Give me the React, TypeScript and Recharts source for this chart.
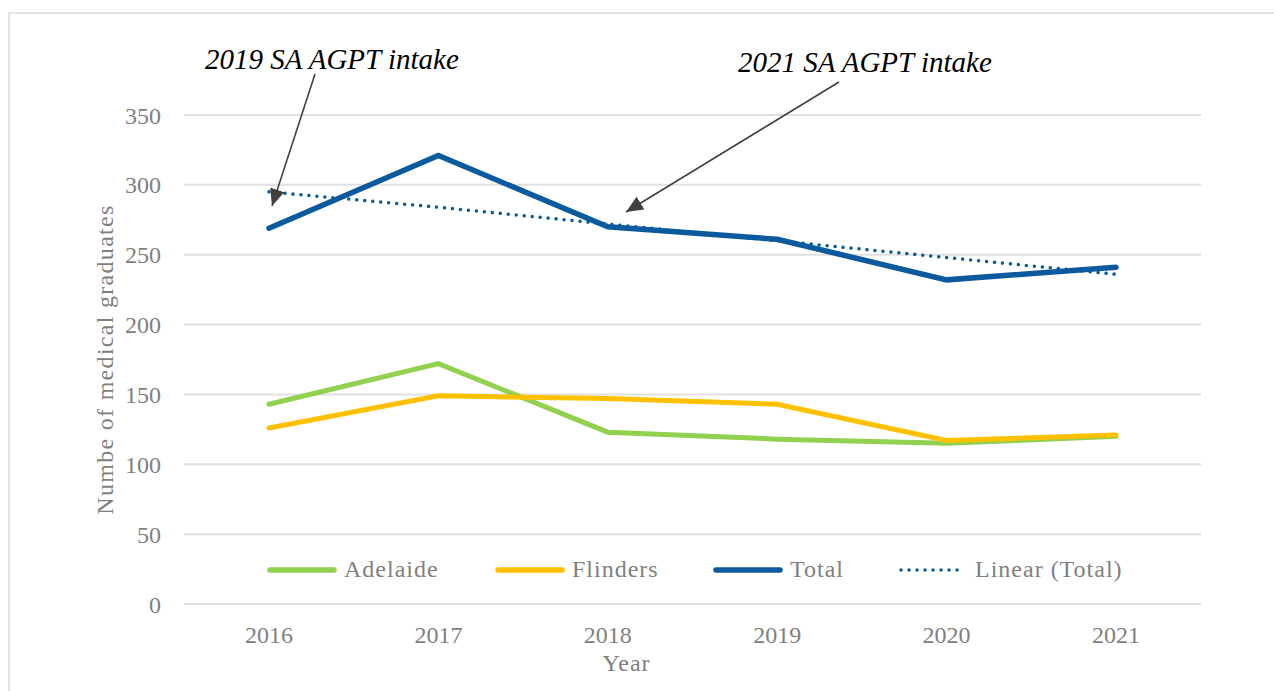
import { CartesianGrid, Legend, Line, LineChart, XAxis, YAxis } from "recharts"

const years = ["2016", "2017", "2018", "2019", "2020", "2021"]
const adelaide = [143, 172, 123, 118, 115, 120]
const flinders = [126, 149, 147, 143, 117, 121]
const total = [269, 321, 270, 261, 232, 241]
const linearTotal = [295, 284, 272, 260, 248, 236]
const yTicks = [0, 50, 100, 150, 200, 250, 300, 350]

const data = years.map((year, i) => ({
  year,
  Adelaide: adelaide[i],
  Flinders: flinders[i],
  Total: total[i],
  "Linear (Total)": linearTotal[i],
}))

const font = "'Liberation Serif', 'Times New Roman', serif"
const gray = "#7f7f7f"

// widths keep the swatches where the original legend has them
const legendItems = [
  { name: "Adelaide", color: "#92D050", dotted: false, width: 228 },
  { name: "Flinders", color: "#FFC000", dotted: false, width: 218 },
  { name: "Total", color: "#0B5A9E", dotted: false, width: 185 },
  { name: "Linear (Total)", color: "#0B5A9E", dotted: true, width: 240 },
]

function ChartLegend() {
  return (
    <div style={{ display: "flex", alignItems: "center", fontFamily: font, fontSize: 24, color: gray, letterSpacing: 1 }}>
      {legendItems.map((item) => (
        <div key={item.name} style={{ display: "flex", alignItems: "center", gap: 7, width: item.width }}>
          <svg width={70} height={10}>
            <line
              x1={3}
              y1={5}
              x2={67}
              y2={5}
              stroke={item.color}
              strokeWidth={item.dotted ? 3.5 : 5.5}
              strokeLinecap="round"
              strokeDasharray={item.dotted ? "0.01 8" : undefined}
            />
          </svg>
          <span style={{ whiteSpace: "nowrap" }}>{item.name}</span>
        </div>
      ))}
    </div>
  )
}

export default function App() {
  return (
    <div style={{ position: "absolute", left: 0, top: 0, width: 1274, height: 691, overflow: "hidden", background: "#fff" }}>
      <div
        style={{
          position: "absolute",
          left: 8,
          top: 12,
          width: 1300,
          height: 700,
          border: "2px solid #E3E3E3",
          boxSizing: "border-box",
        }}
      />
      <div style={{ position: "absolute", left: 10, top: 14 }}>
        <LineChart width={1262} height={676} data={data} margin={{ top: 101, right: 71, bottom: 11, left: 0 }}>
          <CartesianGrid vertical={false} stroke="#E0E0E0" strokeWidth={2} />
          <XAxis
            dataKey="year"
            axisLine={false}
            tickLine={false}
            tickSize={0}
            tickMargin={22}
            height={75}
            padding={{ left: 85, right: 85 }}
            tick={{ fill: gray, fontSize: 24, fontFamily: font }}
            label={{
              value: "Year",
              position: "insideBottom",
              offset: 8,
              dx: -66,
              fill: gray,
              fontSize: 24,
              fontFamily: font,
              style: { letterSpacing: 1 },
            }}
          />
          <YAxis
            domain={[0, 350]}
            ticks={yTicks}
            width={174}
            axisLine={false}
            tickLine={false}
            tickSize={0}
            tickMargin={23}
            tick={{ fill: gray, fontSize: 24, fontFamily: font }}
            label={{
              value: "Numbe of medical graduates",
              angle: -90,
              position: "insideLeft",
              offset: 94,
              fill: gray,
              fontSize: 24,
              fontFamily: font,
              style: { textAnchor: "middle", letterSpacing: 1.3 },
            }}
          />
          <Legend
            verticalAlign="middle"
            align="center"
            content={() => <ChartLegend />}
            wrapperStyle={{ left: 257, top: 542, width: "auto" }}
          />
          <Line dataKey="Adelaide" stroke="#92D050" strokeWidth={5} dot={false} activeDot={false} strokeLinecap="round" isAnimationActive={false} />
          <Line dataKey="Flinders" stroke="#FFC000" strokeWidth={5} dot={false} activeDot={false} strokeLinecap="round" isAnimationActive={false} />
          <Line dataKey="Total" stroke="#0B5A9E" strokeWidth={5.5} dot={false} activeDot={false} strokeLinecap="round" isAnimationActive={false} />
          <Line
            dataKey="Linear (Total)"
            stroke="#0B5A9E"
            strokeWidth={3.5}
            strokeDasharray="0.01 8"
            strokeLinecap="round"
            dot={false}
            activeDot={false}
            isAnimationActive={false}
          />
        </LineChart>
      </div>
      <svg width={1274} height={691} style={{ position: "absolute", left: 0, top: 0, pointerEvents: "none" }}>
        <defs>
          <marker id="arrow" markerUnits="userSpaceOnUse" markerWidth={18} markerHeight={16} refX={17} refY={7.5} orient="auto">
            <path d="M0,0 L17,7.5 L0,15 z" fill="#404040" />
          </marker>
        </defs>
        <text x={205} y={69} fontFamily={font} fontStyle="italic" fontSize={29} fill="#000">
          2019 SA AGPT intake
        </text>
        <text x={738} y={72} fontFamily={font} fontStyle="italic" fontSize={29} fill="#000">
          2021 SA AGPT intake
        </text>
        <line x1={315} y1={74} x2={272} y2={206} stroke="#404040" strokeWidth={1.6} markerEnd="url(#arrow)" />
        <line x1={839} y1={82} x2={626} y2={212} stroke="#404040" strokeWidth={1.6} markerEnd="url(#arrow)" />
      </svg>
    </div>
  )
}
